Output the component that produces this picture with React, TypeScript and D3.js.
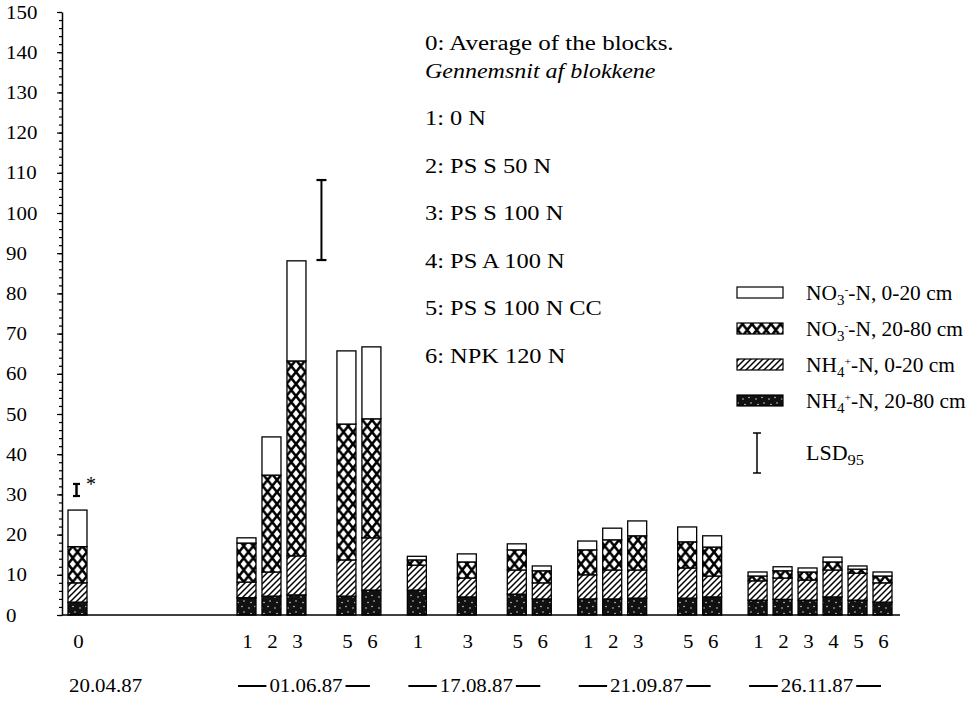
import * as d3 from "d3";
import { useEffect, useRef } from "react";

const WIDTH = 972;
const HEIGHT = 703;
const FONT = "'Liberation Serif', 'Times New Roman', serif";

// sampling dates and the treatments sampled at each
const DATES = ["20.04.87", "01.06.87", "17.08.87", "21.09.87", "26.11.87"];
const TREATMENTS = [
  ["0"],
  ["1", "2", "3", "5", "6"],
  ["1", "3", "5", "6"],
  ["1", "2", "3", "5", "6"],
  ["1", "2", "3", "4", "5", "6"],
];
const ALL_TREATMENTS = ["1", "2", "3", "4", "5", "6"];

// kg N/ha per layer, bottom to top of the stack
const NH4_DEEP = [[3.2], [4.3, 4.7, 5.0, 4.7, 6.2], [6.2, 4.5, 5.2, 4.0], [4.0, 4.0, 4.2, 4.2, 4.5], [3.7, 3.9, 3.7, 4.5, 3.7, 3.2]];
const NH4_TOP = [[4.8], [3.9, 6.0, 9.7, 9.0, 13.0], [6.2, 4.7, 6.0, 4.0], [6.0, 7.2, 7.0, 7.5, 5.2], [4.8, 5.3, 5.0, 6.7, 6.7, 4.8]];
const NO3_DEEP = [[9.0], [9.7, 24.1, 48.5, 33.8, 29.6], [1.3, 4.0, 5.0, 3.0], [6.2, 7.5, 8.5, 6.5, 7.2], [1.2, 1.8, 2.0, 2.0, 1.0, 1.7]];
const NO3_TOP = [[9.1], [1.3, 9.5, 24.9, 18.2, 17.9], [0.9, 2.0, 1.5, 1.2], [2.2, 2.9, 3.7, 3.7, 2.8], [1.0, 1.0, 1.0, 1.2, 0.8, 1.0]];

// LSD95 bars: date index, slot, low, high
const LSD_DATE = [0, 1];
const LSD_SLOT = ["0", "4"];
const LSD_LOW = [29.6, 88.3];
const LSD_HIGH = [32.6, 108.2];

const Y_TICKS = d3.range(0, 151, 10);

const NOTES = [
  "1: 0 N",
  "2: PS S 50 N",
  "3: PS S 100 N",
  "4: PS A 100 N",
  "5: PS S 100 N CC",
  "6: NPK 120 N",
];

const KEYS = ["nh4Deep", "nh4Top", "no3Deep", "no3Top"];
const FILLS: Record<string, string> = {
  nh4Deep: "url(#speck)",
  nh4Top: "url(#hatch)",
  no3Deep: "url(#cross)",
  no3Top: "white",
};

// the scanned lettering is wider than the font
const place = (x: number, y: number, sx: number) => `translate(${x},${y}) scale(${sx},1)`;

export default function App() {
  const ref = useRef<SVGSVGElement>(null);

  useEffect(() => {
    const svg = d3.select(ref.current);
    svg.selectAll("*").remove();

    const y = d3.scaleLinear().domain([0, 150]).range([615, 12]);
    const x0 = d3.scaleBand().domain(["0"]).range([65, 90]).paddingInner(0.24).paddingOuter(0.12);
    const xGroup = d3.scaleBand().domain(DATES.slice(1)).range([234, 895]).paddingInner(0.12);
    const xInner = d3
      .scaleBand()
      .domain(ALL_TREATMENTS)
      .range([0, xGroup.bandwidth()])
      .paddingInner(0.24)
      .paddingOuter(0.12);
    const xPos = (di: number, t: string) =>
      di === 0 ? (x0("0") as number) : (xGroup(DATES[di]) as number) + (xInner(t) as number);
    const bw = xInner.bandwidth();

    // patterns
    const defs = svg.append("defs");
    const cross = defs.append("pattern").attr("id", "cross").attr("patternUnits", "userSpaceOnUse")
      .attr("x", 68).attr("width", 9.5).attr("height", 12);
    cross.append("rect").attr("width", 9.5).attr("height", 12).attr("fill", "white");
    cross.append("path").attr("d", "M0,0L9.5,12M9.5,0L0,12").attr("stroke", "black").attr("stroke-width", 2.6);

    const hatch = defs.append("pattern").attr("id", "hatch").attr("patternUnits", "userSpaceOnUse")
      .attr("width", 6).attr("height", 6);
    hatch.append("rect").attr("width", 6).attr("height", 6).attr("fill", "white");
    hatch.append("path").attr("d", "M0,6L6,0M-1,1L1,-1M5,7L7,5").attr("stroke", "black").attr("stroke-width", 1.5);

    const speck = defs.append("pattern").attr("id", "speck").attr("patternUnits", "userSpaceOnUse")
      .attr("width", 13).attr("height", 11);
    speck.append("rect").attr("width", 13).attr("height", 11).attr("fill", "#111");
    speck.selectAll("circle").data([[2, 3], [8, 1.5], [10, 7], [4, 8.5]]).join("circle")
      .attr("cx", (d) => d[0]).attr("cy", (d) => d[1]).attr("r", 0.7).attr("fill", "white");

    // rows for the stack
    const rows: any[] = [];
    DATES.forEach((_, di) => {
      TREATMENTS[di].forEach((t, j) => {
        rows.push({
          di, t,
          nh4Deep: NH4_DEEP[di][j],
          nh4Top: NH4_TOP[di][j],
          no3Deep: NO3_DEEP[di][j],
          no3Top: NO3_TOP[di][j],
        });
      });
    });
    const series = d3.stack().keys(KEYS)(rows);

    svg.append("g")
      .selectAll("g")
      .data(series)
      .join("g")
      .attr("fill", (s) => FILLS[s.key])
      .selectAll("rect")
      .data((s) => s)
      .join("rect")
      .attr("x", (d: any) => xPos(d.data.di, d.data.t))
      .attr("y", (d) => y(d[1]))
      .attr("width", bw)
      .attr("height", (d) => y(d[0]) - y(d[1]))
      .attr("stroke", "black")
      .attr("stroke-width", 1.3);

    // axis
    const axisG = svg.append("g").attr("transform", "translate(62,0)");
    axisG.call(d3.axisLeft(y).tickValues(d3.range(0, 151, 2)).tickSize(3).tickSizeOuter(0).tickFormat(() => ""));
    axisG.append("g").call(d3.axisLeft(y).tickValues(Y_TICKS).tickSize(5).tickSizeOuter(0))
      .call((g) => g.select(".domain").remove());
    axisG.selectAll("path.domain").attr("stroke-width", 1.5);
    axisG.selectAll(".tick line").attr("stroke-width", 1.2);
    axisG.selectAll("text")
      .attr("x", -56 / 1.1)
      .attr("transform", "scale(1.1,1)")
      .attr("text-anchor", "start")
      .attr("font-family", FONT)
      .attr("font-size", 19)
      .attr("fill", "black");

    svg.append("line").attr("x1", 62).attr("x2", 900).attr("y1", y(0)).attr("y2", y(0))
      .attr("stroke", "black").attr("stroke-width", 1.5);

    // LSD bars
    const lsdG = svg.append("g").attr("stroke", "black");
    LSD_LOW.forEach((lo, i) => {
      const cx = xPos(LSD_DATE[i], LSD_SLOT[i]) + bw / 2 + (i === 0 ? -1 : 0);
      const cap = i === 0 ? 3.5 : 5;
      lsdG.append("line").attr("x1", cx).attr("x2", cx).attr("y1", y(lo)).attr("y2", y(LSD_HIGH[i]))
        .attr("stroke-width", i === 0 ? 2.5 : 2);
      [lo, LSD_HIGH[i]].forEach((v) =>
        lsdG.append("line").attr("x1", cx - cap).attr("x2", cx + cap).attr("y1", y(v)).attr("y2", y(v))
          .attr("stroke-width", 2.2));
    });
    svg.append("text").attr("x", 86).attr("y", 491).attr("font-family", FONT).attr("font-size", 20)
      .text("*");

    // treatment labels
    const lab = svg.append("g").attr("font-family", FONT).attr("font-size", 19).attr("text-anchor", "middle");
    rows.forEach((r) => {
      lab.append("text").attr("transform", place(xPos(r.di, r.t) + bw / 2 + 1, 648, 1.1)).text(r.t);
    });

    // date labels with dashes
    const dg = svg.append("g").attr("font-family", FONT).attr("font-size", 19);
    dg.append("text").attr("transform", place((x0("0") as number) + 1, 692, 1.1)).text(DATES[0]);
    DATES.slice(1).forEach((d) => {
      const g0 = xGroup(d) as number;
      const cx = g0 + xGroup.bandwidth() / 2 - 3;
      const t = dg.append("text").attr("transform", place(cx, 692, 1.1)).attr("text-anchor", "middle").text(d);
      const w = (t.node() as SVGTextElement).getComputedTextLength() * 1.1;
      dg.append("line").attr("x1", g0 + 4).attr("x2", cx - w / 2 - 3).attr("y1", 686).attr("y2", 686)
        .attr("stroke", "black").attr("stroke-width", 2);
      dg.append("line").attr("x1", cx + w / 2 + 3).attr("x2", g0 + xGroup.bandwidth() - 14)
        .attr("y1", 686).attr("y2", 686).attr("stroke", "black").attr("stroke-width", 2);
    });

    // treatment notes
    const notes = svg.append("g").attr("font-family", FONT).attr("font-size", 20);
    notes.append("text").attr("transform", place(425, 50, 1.25)).text("0: Average of the blocks.");
    notes.append("text").attr("transform", place(425, 78, 1.2)).attr("font-style", "italic")
      .text("Gennemsnit af blokkene");
    NOTES.forEach((n, i) => {
      notes.append("text").attr("transform", place(425, 125 + i * 47.5, 1.22)).text(n);
    });

    // legend
    const leg = svg.append("g").attr("font-family", FONT).attr("font-size", 20);
    const legendItems = [
      { key: "no3Top", ion: "NO", sub: "3", sup: "-", rest: "-N, 0-20 cm" },
      { key: "no3Deep", ion: "NO", sub: "3", sup: "-", rest: "-N, 20-80 cm" },
      { key: "nh4Top", ion: "NH", sub: "4", sup: "+", rest: "-N, 0-20 cm" },
      { key: "nh4Deep", ion: "NH", sub: "4", sup: "+", rest: "-N, 20-80 cm" },
    ];
    legendItems.forEach((it, i) => {
      const yy = 287 + i * 36;
      leg.append("rect").attr("x", 737).attr("y", yy).attr("width", 46).attr("height", 11)
        .attr("fill", FILLS[it.key]).attr("stroke", "black").attr("stroke-width", 1.2);
      const t = leg.append("text").attr("transform", place(806, yy + 13, 1.07));
      t.append("tspan").text(it.ion);
      t.append("tspan").attr("dy", 5).attr("font-size", 14).text(it.sub);
      t.append("tspan").attr("dy", -12).attr("font-size", 11).text(it.sup);
      t.append("tspan").attr("dy", 7).text(it.rest);
    });
    lsdG.append("line").attr("x1", 757).attr("x2", 757).attr("y1", 433).attr("y2", 473).attr("stroke-width", 1.5);
    [433, 473].forEach((v) =>
      lsdG.append("line").attr("x1", 753).attr("x2", 761).attr("y1", v).attr("y2", v).attr("stroke-width", 1.5));
    const lt = leg.append("text").attr("transform", place(806, 460, 1.1));
    lt.append("tspan").text("LSD");
    lt.append("tspan").attr("dy", 5).attr("font-size", 15).text("95");
  }, []);

  return (
    <svg
      ref={ref}
      width={WIDTH}
      height={HEIGHT}
      style={{ position: "absolute", left: 0, top: 0, background: "white" }}
    />
  );
}
